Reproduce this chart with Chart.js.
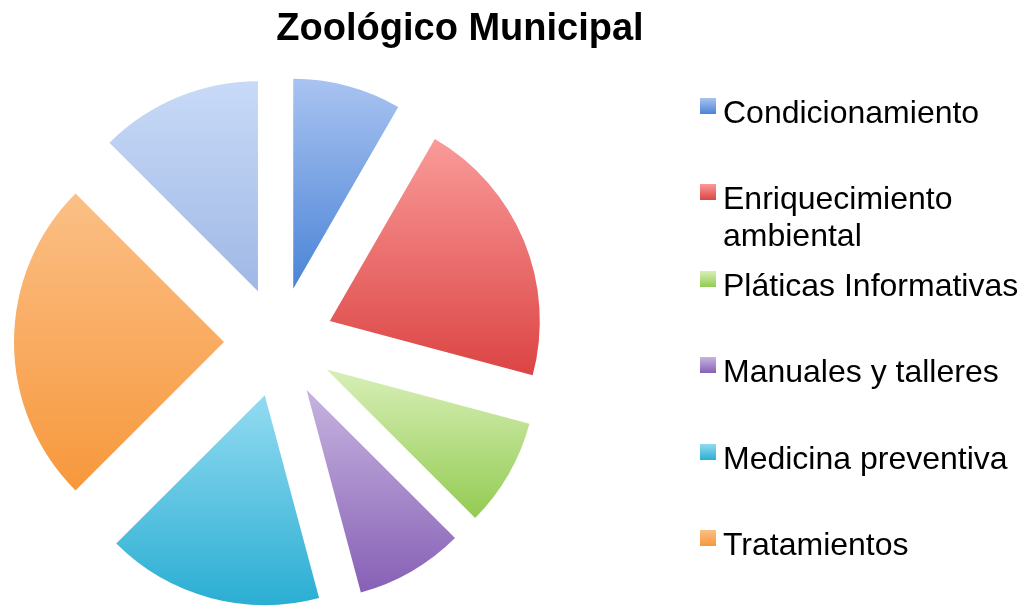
<!DOCTYPE html>
<html>
<head>
<meta charset="utf-8">
<script src="https://cdn.jsdelivr.net/npm/chart.js@4"></script>
<style>
html, body { margin: 0; padding: 0; background: #ffffff; }
#wrap { position: relative; width: 1029px; height: 609px; overflow: hidden; }
#box { position: absolute; left: 0; top: 0; width: 920px; height: 609px; }
#title { position: absolute; left: 0; top: 4px; width: 920px; text-align: center;
  font-family: "Liberation Sans", Arial, sans-serif; font-weight: bold; font-size: 38px;
  line-height: 46px; color: #000; white-space: nowrap; }
#legend { position: absolute; left: 700px; top: 0; width: 329px; height: 609px;
  font-family: "Liberation Sans", Arial, sans-serif; font-size: 32px; color: #000; }
.item { position: absolute; left: 0; white-space: nowrap; line-height: 37px; }
.sw { position: absolute; left: 0; top: 4px; width: 16px; height: 16px; }
.tx { position: absolute; left: 23px; top: 0; }
</style>
</head>
<body>
<div id="wrap">
  <div id="box"><canvas id="c"></canvas></div>
  <div id="title"></div>
  <div id="legend"></div>
</div>
<script>
// ---- data ----
const chartTitle = 'Zoológico Municipal';
const categories = [
  ['Condicionamiento'],
  ['Enriquecimiento', 'ambiental'],
  ['Pláticas Informativas'],
  ['Manuales y talleres'],
  ['Medicina preventiva'],
  ['Tratamientos'],
  ['']
];
const values = [2, 5, 2, 2, 4, 6, 3];
const colorTop    = ['#a9c3f1', '#f99b99', '#d8efb8', '#c6b4df', '#93dbf1', '#fbbf86', '#c8daf7'];
const colorBottom = ['#4a84d6', '#dc4444', '#93cb52', '#8760b6', '#2aaed3', '#f7983c', '#9fb8e5'];

// ---- style constants ----
const RADIUS = 210;
const OFFSET = 220; // Chart.js translates arcs by offset/4

const gradientPlugin = {
  id: 'sliceGradients',
  afterDatasetsUpdate(chart) {
    const meta = chart.getDatasetMeta(0);
    const ctx = chart.ctx;
    const t = OFFSET / 4;
    meta.data.forEach((arc, i) => {
      const circ = arc.circumference;
      const R = arc.outerRadius;
      // compensate Chart.js radius/angle tweak for offset arcs
      const ro = t * (1 - Math.sin(Math.min(Math.PI, circ)));
      arc.outerRadius = R - ro;
      const ao = ro / (2 * Math.PI * R);
      const s = arc.startAngle, e = arc.endAngle;
      arc.startAngle = s - ao;
      arc.endAngle = e + ao;
      // vertical gradient over the slice's own extent (untranslated coords)
      const ys = [arc.y, arc.y + Math.sin(s) * R, arc.y + Math.sin(e) * R];
      for (let k = -4; k <= 8; k++) {
        const a = k * Math.PI / 2;
        if (a > s && a < e) ys.push(arc.y + Math.sin(a) * R);
      }
      const minY = Math.min(...ys), maxY = Math.max(...ys);
      const g = ctx.createLinearGradient(0, minY, 0, maxY);
      g.addColorStop(0, colorTop[i]);
      g.addColorStop(1, colorBottom[i]);
      arc.options = Object.assign({}, arc.options, { backgroundColor: g });
    });
  }
};

new Chart(document.getElementById('c'), {
  type: 'pie',
  data: {
    labels: categories,
    datasets: [{
      data: values,
      backgroundColor: colorBottom,
      borderWidth: 0,
      offset: OFFSET,
      hoverOffset: OFFSET,
      clip: false
    }]
  },
  options: {
    responsive: true,
    maintainAspectRatio: false,
    animation: false,
    events: [],
    radius: RADIUS,
    layout: { padding: { left: 0, right: 362, top: 75, bottom: 0 } },
    plugins: {
      legend: { display: false },
      tooltip: { enabled: false },
      title: { display: false }
    }
  },
  plugins: [gradientPlugin]
});

// ---- HTML title ----
document.getElementById('title').textContent = chartTitle;

// ---- HTML legend ----
const legendEl = document.getElementById('legend');
categories.forEach((lines, i) => {
  if (!lines.join('').trim()) return;
  const item = document.createElement('div');
  item.className = 'item';
  item.style.top = (94 + i * 86.4) + 'px';
  const sw = document.createElement('div');
  sw.className = 'sw';
  sw.style.background = 'linear-gradient(' + colorTop[i] + ',' + colorBottom[i] + ')';
  const tx = document.createElement('div');
  tx.className = 'tx';
  lines.forEach((ln, j) => {
    if (j) tx.appendChild(document.createElement('br'));
    tx.appendChild(document.createTextNode(ln));
  });
  item.appendChild(sw);
  item.appendChild(tx);
  legendEl.appendChild(item);
});
</script>
</body>
</html>
